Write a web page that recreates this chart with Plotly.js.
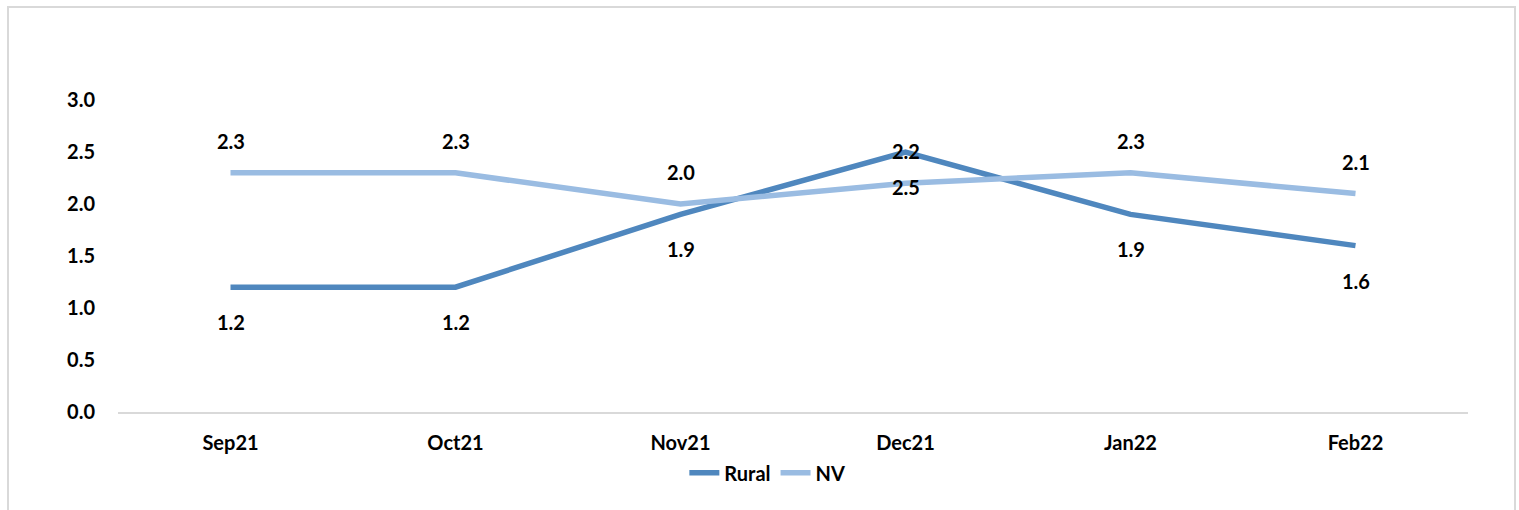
<!DOCTYPE html>
<html>
<head>
<meta charset="utf-8">
<script src="https://cdn.plot.ly/plotly-3.0.1.min.js"></script>
<style>
  html, body { margin: 0; padding: 0; background: #fff; }
  #chart { width: 1519px; height: 510px; }
  #frame { position: absolute; left: 7px; top: 6px; width: 1509px; height: 520px;
           border: 2px solid #d9d9d9; pointer-events: none; box-sizing: border-box; }
</style>
</head>
<body>
<div id="chart"></div>
<div id="frame"></div>
<script>
const categories = ["Sep21", "Oct21", "Nov21", "Dec21", "Jan22", "Feb22"];
const rural = [1.2, 1.2, 1.9, 2.5, 1.9, 1.6];
const nv = [2.3, 2.3, 2.0, 2.2, 2.3, 2.1];
const yTicks = [0, 0.5, 1, 1.5, 2, 2.5, 3];
const yTickText = ["0.0", "0.5", "1.0", "1.5", "2.0", "2.5", "3.0"];

const FONT = "Lato, 'Open Sans', sans-serif";
const SIZE = 20;
const ruralColor = "#4f87be";
const nvColor = "#9abce2";
const txt = { family: FONT, size: SIZE, color: "#000", weight: "bold" };

const traces = [
  { x: categories, y: rural, name: "Rural", type: "scatter", mode: "lines",
    line: { color: ruralColor, width: 5.5 }, hoverinfo: "skip" },
  { x: categories, y: nv, name: "NV", type: "scatter", mode: "lines",
    line: { color: nvColor, width: 5.5 }, hoverinfo: "skip" }
];

const annotations = [];
categories.forEach((c, i) => {
  annotations.push({ x: c, y: rural[i], text: rural[i].toFixed(1), showarrow: false,
    yshift: -35, font: txt });
  annotations.push({ x: c, y: nv[i], text: nv[i].toFixed(1), showarrow: false,
    yshift: 32, font: txt });
});

const layout = {
  width: 1519, height: 510,
  margin: { l: 118, r: 51, t: 100, b: 98 },
  paper_bgcolor: "#fff", plot_bgcolor: "#fff",
  font: txt,
  showlegend: true,
  legend: { orientation: "h", x: 0.481, xanchor: "center", y: -0.195, yanchor: "middle",
    font: txt, traceorder: "normal", tracegroupgap: 0 },
  xaxis: { type: "category", range: [-0.5, 5.5], showgrid: false, zeroline: false,
    showline: true, linecolor: "#d9d9d9", linewidth: 2, ticks: "",
    ticklabelstandoff: 12, tickfont: txt },
  yaxis: { range: [0, 3], showgrid: false, zeroline: false, showline: false,
    tickvals: yTicks, ticktext: yTickText, ticks: "", ticklabelstandoff: 22,
    tickfont: txt },
  annotations: annotations
};

Plotly.newPlot("chart", traces, layout, { displayModeBar: false, staticPlot: true });
</script>
</body>
</html>
